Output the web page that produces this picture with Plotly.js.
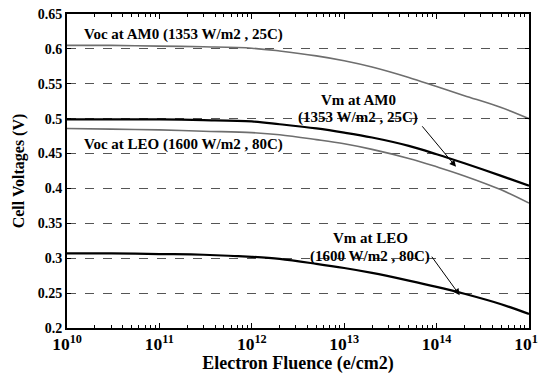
<!DOCTYPE html>
<html><head><meta charset="utf-8">
<script src="https://cdn.plot.ly/plotly-3.0.1.min.js"></script>
<style>body{margin:0;background:#fff}#chart{width:538px;height:374px}</style>
</head><body><div id="chart"></div>
<script>
const fluence = [1e10, 3e10, 1e11, 3e11, 1e12, 2e12, 5e12, 1e13, 2e13, 5e13, 1e14, 2e14, 5e14, 1e15];
const vocAM0 = [0.605, 0.605, 0.604, 0.603, 0.601, 0.597, 0.590, 0.583, 0.574, 0.559, 0.546, 0.533, 0.516, 0.500];
const vmAM0  = [0.499, 0.499, 0.499, 0.498, 0.496, 0.492, 0.486, 0.480, 0.473, 0.461, 0.449, 0.436, 0.418, 0.404];
const vocLEO = [0.486, 0.485, 0.484, 0.482, 0.480, 0.477, 0.470, 0.464, 0.456, 0.443, 0.431, 0.418, 0.398, 0.379];
const vmLEO  = [0.307, 0.307, 0.306, 0.305, 0.302, 0.299, 0.292, 0.286, 0.279, 0.268, 0.259, 0.249, 0.234, 0.220];
const yTicks = [0.2, 0.25, 0.3, 0.35, 0.4, 0.45, 0.5, 0.55, 0.6, 0.65];
const yTickText = ['0.2', '0.25', '0.3', '0.35', '0.4', '0.45', '0.5', '0.55', '0.6', '0.65'];

const gray = '#6e6e6e';
const mk = (y, color, w) => ({x: fluence, y: y, type: 'scatter', mode: 'lines',
  line: {color: color, width: w, shape: 'spline', smoothing: 1}, showlegend: false, hoverinfo: 'skip'});
const data = [mk(vocAM0, gray, 1.6), mk(vocLEO, gray, 1.6), mk(vmAM0, '#000', 2.2), mk(vmLEO, '#000', 2.2)];

const FAM = '"Liberation Serif", "Times New Roman", serif';
const F = {family: FAM, size: 15, color: '#000', weight: 'bold'};
const txt = (x, y, t, anchor) => ({x: x, y: y, xref: 'x', yref: 'y', text: t,
  showarrow: false, xanchor: anchor, yanchor: 'middle', font: F});
const arr = (x, y, ax, ay) => ({x: x, y: y, xref: 'x', yref: 'y', text: '', showarrow: true,
  ax: ax, ay: ay, arrowhead: 2, arrowsize: 1.3, arrowwidth: 1, arrowcolor: '#000'});

const layout = {
  width: 538, height: 374,
  margin: {l: 67, r: 9, t: 14, b: 46},
  paper_bgcolor: '#fff', plot_bgcolor: '#fff',
  font: F,
  xaxis: {type: 'log', range: [10, 15], dtick: 1, exponentformat: 'power', ticklabeloverflow: 'allow',
    tickfont: {family: FAM, size: 14, color: '#000', weight: 'bold'},
    showgrid: false, zeroline: false, showline: true, linecolor: '#000', linewidth: 2,
    mirror: 'ticks', ticks: 'inside', ticklen: 5, tickcolor: '#000',
    minor: {ticks: 'inside', ticklen: 3, tickcolor: '#000', showgrid: false},
    title: {text: 'Electron Fluence (e/cm2)', font: {family: FAM, size: 18, color: '#000', weight: 'bold'}}},
  yaxis: {range: [0.2, 0.65], tickvals: yTicks, ticktext: yTickText,
    tickfont: {family: FAM, size: 14, color: '#000', weight: 'bold'},
    showgrid: true, gridcolor: '#555', griddash: 'dash', gridwidth: 1, zeroline: false,
    showline: true, linecolor: '#000', linewidth: 2, mirror: 'ticks', ticks: 'inside', ticklen: 4, tickcolor: '#000',
    title: {text: 'Cell Voltages (V)', font: {family: FAM, size: 16, color: '#000', weight: 'bold'}}},
  annotations: [
    txt(10.16, 0.620, 'Voc at AM0 (1353 W/m2 , 25C)', 'left'),
    txt(10.16, 0.463, 'Voc at LEO (1600 W/m2 , 80C)', 'left'),
    txt(13.15, 0.527, 'Vm at AM0', 'center'),
    txt(13.15, 0.501, '(1353 W/m2 , 25C)', 'center'),
    arr(14.21, 0.431, -35, -42),
    txt(13.28, 0.329, 'Vm at LEO', 'center'),
    txt(13.28, 0.303, '(1600 W/m2 , 80C)', 'center'),
    arr(14.25, 0.247, -29, -40)
  ]
};
Plotly.newPlot('chart', data, layout, {displayModeBar: false, staticPlot: true});
</script></body></html>
